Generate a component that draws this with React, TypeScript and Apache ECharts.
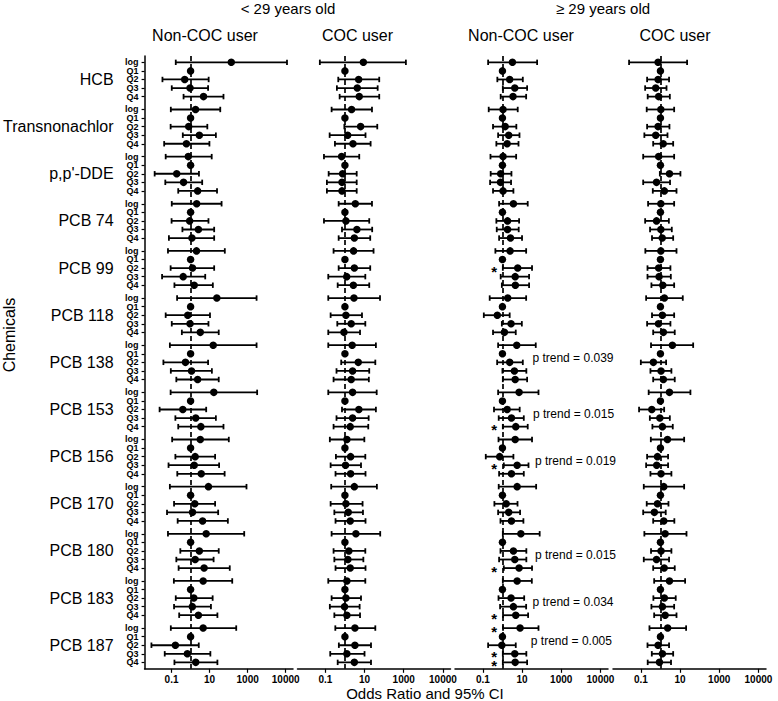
import { useEffect, useRef } from "react";
import * as echarts from "echarts";

// ---------- data ----------
const chemicals = ["HCB", "Transnonachlor", "p,p'-DDE", "PCB 74", "PCB 99", "PCB 118", "PCB 138", "PCB 153", "PCB 156", "PCB 170", "PCB 180", "PCB 183", "PCB 187"];
const rowLabels = ["log", "Q1", "Q2", "Q3", "Q4"];
const ageGroups = ["< 29 years old", "\u2265 29 years old"];
const panelTitles = ["Non-COC user", "COC user", "Non-COC user", "COC user"];
const tickLog10 = [-1, 1, 3, 5];
const tickLabels = ["0.1", "10", "1000", "10000"];

// Each chemical: rows [log, Q2, Q3, Q4] as [lower, estimate, upper] on log10(odds ratio); Q1 is the reference (OR = 1)
const youngNonCOC: number[][][] = [
  [[-0.78, 2.14, 5.07], [-1.48, -0.31, 0.95], [-0.99, -0.03, 0.92], [-0.37, 0.68, 1.73]],
  [[-1.04, 0.26, 1.56], [-1.05, -0.1, 0.88], [-0.41, 0.46, 1.33], [-1.39, -0.22, 0.99]],
  [[-1.31, -0.12, 1.11], [-1.89, -0.73, 0.44], [-1.33, -0.37, 0.61], [-0.65, 0.37, 1.39]],
  [[-0.99, 0.32, 1.63], [-1.0, -0.05, 0.94], [-0.43, 0.41, 1.24], [-1.14, 0.07, 1.24]],
  [[-1.19, 0.31, 1.8], [-1.05, 0.1, 1.24], [-1.5, -0.39, 0.77], [-0.85, 0.19, 1.17]],
  [[-0.71, 1.38, 3.47], [-1.31, -0.15, 1.02], [-0.99, -0.03, 0.94], [-0.46, 0.51, 1.48]],
  [[-1.09, 1.19, 3.47], [-1.43, -0.27, 0.92], [-1.04, 0.05, 1.12], [-0.75, 0.37, 1.48]],
  [[-1.05, 1.22, 3.5], [-1.63, -0.41, 0.82], [-0.8, 0.27, 1.33], [-0.65, 0.54, 1.73]],
  [[-0.97, 0.51, 2.01], [-0.8, 0.24, 1.29], [-1.16, 0.19, 1.5], [-0.7, 0.56, 1.79]],
  [[-1.09, 0.94, 2.94], [-0.87, 0.22, 1.29], [-1.24, 0.1, 1.45], [-0.68, 0.63, 1.96]],
  [[-1.19, 0.82, 2.82], [-0.54, 0.46, 1.48], [-0.75, 0.24, 1.21], [-0.63, 0.71, 2.06]],
  [[-0.88, 0.66, 2.19], [-0.78, 0.17, 1.16], [-0.87, 0.09, 1.07], [-0.6, 0.41, 1.41]],
  [[-1.04, 0.66, 2.4], [-2.06, -0.8, 0.43], [-1.36, -0.17, 1.04], [-0.85, 0.27, 1.41]],
];
const youngCOC: number[][][] = [
  [[-1.28, 0.94, 3.11], [-0.34, 0.7, 1.75], [-0.41, 0.63, 1.67], [-0.27, 0.73, 1.75]],
  [[-0.68, 0.34, 1.38], [-0.03, 0.8, 1.65], [-0.78, 0.14, 1.05], [-0.51, 0.41, 1.31]],
  [[-1.07, -0.17, 0.73], [-0.83, -0.12, 0.6], [-0.92, -0.15, 0.6], [-0.92, -0.15, 0.6]],
  [[-0.32, 0.53, 1.38], [-1.07, 0.05, 1.24], [-0.15, 0.61, 1.39], [-0.32, 0.48, 1.29]],
  [[-0.58, 0.44, 1.46], [-0.32, 0.48, 1.29], [-0.85, 0.09, 1.04], [-0.37, 0.43, 1.24]],
  [[-0.85, 0.46, 1.79], [-0.73, 0.05, 0.87], [-0.39, 0.32, 1.04], [-0.85, -0.05, 0.77]],
  [[-0.85, 0.37, 1.58], [-0.19, 0.68, 1.55], [-0.43, 0.39, 1.24], [-0.58, 0.32, 1.22]],
  [[-0.85, 0.39, 1.62], [-0.15, 0.71, 1.58], [-0.43, 0.39, 1.21], [-0.58, 0.27, 1.19]],
  [[-0.77, 0.1, 0.99], [-0.46, 0.29, 1.04], [-0.73, 0.03, 0.82], [-0.48, 0.29, 1.05]],
  [[-0.7, 0.48, 1.63], [-0.73, 0.05, 0.9], [-0.54, 0.17, 0.92], [-0.48, 0.27, 1.05]],
  [[-0.68, 0.56, 1.8], [-0.58, 0.2, 1.04], [-0.54, 0.15, 0.94], [-0.48, 0.27, 1.05]],
  [[-0.85, 0.1, 1.04], [-0.68, 0.05, 0.82], [-0.77, -0.02, 0.75], [-0.54, 0.1, 0.77]],
  [[-0.49, 0.51, 1.55], [-0.31, 0.51, 1.33], [-0.75, 0.1, 1.0], [-0.37, 0.48, 1.33]],
];
const oldNonCOC: number[][][] = [
  [[-0.73, 0.51, 1.77], [-0.26, 0.37, 1.04], [0.02, 0.63, 1.26], [-0.09, 0.54, 1.21]],
  [[-0.7, 0.03, 0.78], [-0.48, 0.14, 0.71], [-0.22, 0.32, 0.87], [-0.31, 0.24, 0.82]],
  [[-0.61, 0.03, 0.7], [-0.6, -0.09, 0.46], [-0.63, -0.1, 0.44], [-0.48, 0.03, 0.56]],
  [[-0.17, 0.56, 1.29], [-0.31, 0.26, 0.85], [-0.29, 0.26, 0.83], [-0.17, 0.41, 1.0]],
  [[-0.36, 0.39, 1.21], [0.02, 0.78, 1.51], [-0.09, 0.65, 1.36], [-0.03, 0.66, 1.36]],
  [[-0.65, 0.27, 1.21], [-0.95, -0.26, 0.37], [-0.03, 0.44, 0.99], [-0.48, 0.1, 0.68]],
  [[-0.22, 0.73, 1.7], [-0.27, 0.37, 1.04], [0.0, 0.61, 1.22], [0.02, 0.65, 1.26]],
  [[-0.22, 0.85, 1.84], [-0.43, 0.24, 0.88], [-0.19, 0.46, 1.09], [0.02, 0.68, 1.29]],
  [[-0.2, 0.65, 1.51], [-0.85, -0.14, 0.56], [0.07, 0.75, 1.33], [-0.17, 0.46, 1.09]],
  [[-0.19, 0.75, 1.72], [-0.41, 0.19, 0.77], [-0.22, 0.32, 0.9], [-0.1, 0.46, 1.07]],
  [[0.02, 0.94, 1.9], [-0.1, 0.56, 1.22], [-0.17, 0.63, 1.22], [0.07, 0.85, 1.51]],
  [[0.02, 0.75, 1.5], [-0.2, 0.44, 1.11], [-0.12, 0.56, 1.21], [0.03, 0.68, 1.31]],
  [[0.03, 0.9, 1.84], [-0.73, -0.03, 0.68], [0.02, 0.63, 1.22], [0.02, 0.65, 1.26]],
];
const oldCOC: number[][][] = [
  [[-1.6, -0.12, 1.36], [-0.68, -0.12, 0.44], [-0.78, -0.24, 0.31], [-0.65, -0.09, 0.48]],
  [[-0.7, 0.02, 0.7], [-0.68, -0.12, 0.46], [-0.82, -0.24, 0.36], [-0.37, 0.14, 0.65]],
  [[-0.88, -0.09, 0.7], [-0.03, 0.46, 1.02], [-0.88, -0.2, 0.49], [-0.39, 0.2, 0.82]],
  [[-0.63, 0.02, 0.7], [-0.78, -0.2, 0.43], [-0.53, 0.02, 0.58], [-0.43, 0.09, 0.65]],
  [[-0.77, 0.02, 0.82], [-0.66, -0.09, 0.51], [-0.66, -0.07, 0.53], [-0.46, 0.12, 0.7]],
  [[-0.73, 0.2, 1.14], [-0.43, 0.1, 0.7], [-0.68, -0.1, 0.51], [-0.37, 0.15, 0.73]],
  [[-0.48, 0.61, 1.67], [-1.0, -0.36, 0.29], [-0.51, 0.03, 0.56], [-0.37, 0.15, 0.73]],
  [[-0.6, 0.46, 1.53], [-1.09, -0.44, 0.19], [-0.54, -0.03, 0.48], [-0.41, 0.1, 0.63]],
  [[-0.49, 0.36, 1.21], [-0.68, -0.15, 0.39], [-0.73, -0.19, 0.39], [-0.51, 0.03, 0.56]],
  [[-0.85, 0.17, 1.21], [-0.7, -0.15, 0.41], [-0.88, -0.31, 0.27], [-0.37, 0.17, 0.71]],
  [[-0.82, 0.24, 1.33], [-0.48, 0.03, 0.56], [-0.85, -0.2, 0.44], [-0.37, 0.19, 0.73]],
  [[-0.32, 0.46, 1.26], [-0.36, 0.2, 0.78], [-0.46, 0.1, 0.7], [-0.32, 0.24, 0.82]],
  [[-0.56, 0.37, 1.31], [-0.66, -0.12, 0.44], [-0.44, 0.1, 0.65], [-0.65, -0.05, 0.54]],
];
// significant estimates (≥ 29, non-COC): [chemical index, row index]
const starCells = [[4, 2], [7, 4], [8, 3], [10, 4], [11, 4], [12, 0], [12, 3], [12, 4]];
const pTrendChemicals = [6, 7, 8, 10, 11, 12];
const pTrendValues = ["0.039", "0.015", "0.019", "0.015", "0.034", "0.005"];

// ---------- layout ----------
const FONT = '"Liberation Sans", Arial, Helvetica, sans-serif';
const X_MIN = -2.42;
const X_MAX = 5.386;
const GRID_LEFTS = [140, 297.5, 455, 613];
const GRID_WIDTH = 153;
const GRID_TOP = 55.9;
const GRID_HEIGHT = 612.9;
const STAR_X = -0.42;
const P_TEXT_X = [1.53, 1.56, 1.66, 1.66, 1.53, 1.45];
const P_SLOT_OFFSET = [3, 5, 5, 5, 5, 3];

const ROW_STEP = 2;
const GROUP_STEP = 11;
const slotOf = (g: number, r: number) => 1 + g * GROUP_STEP + r * ROW_STEP;
const N_SLOTS = slotOf(chemicals.length - 1, 4) + 2;
const slotKeys = Array.from({ length: N_SLOTS }, (_, i) => "s" + i);
const rowLabelAt: string[] = Array(N_SLOTS).fill("");
const nameAt: string[] = Array(N_SLOTS).fill("");
chemicals.forEach((c, g) => {
  rowLabels.forEach((l, r) => (rowLabelAt[slotOf(g, r)] = l));
  nameAt[slotOf(g, 2)] = c;
});
// first/last (empty) slots take part in label layout so that ECharts' min/max label hiding hits them, not real rows
const showRowLabel = (idx: number) => idx === 0 || idx === N_SLOTS - 1 || rowLabelAt[idx] !== "";

const panels = [youngNonCOC, youngCOC, oldNonCOC, oldCOC];

function buildOption(): any {
  const grids = GRID_LEFTS.map((left) => ({ left, width: GRID_WIDTH, top: GRID_TOP, height: GRID_HEIGHT }));
  const xAxes = GRID_LEFTS.map((_, i) => ({
    type: "value",
    gridIndex: i,
    min: X_MIN,
    max: X_MAX,
    splitLine: { show: false },
    axisLine: { show: true, onZero: false, lineStyle: { color: "#000", width: 1.5 } },
    axisTick: { show: true, customValues: tickLog10, length: 4, lineStyle: { color: "#000", width: 1.2 } },
    axisLabel: {
      customValues: tickLog10,
      formatter: (v: number) => tickLabels[tickLog10.indexOf(v)] ?? "",
      color: "#000",
      fontSize: 10,
      fontWeight: "bold",
      fontFamily: FONT,
      margin: 6,
    },
  }));
  const yAxes: any[] = GRID_LEFTS.map((_, i) => ({
    type: "category",
    gridIndex: i,
    data: slotKeys,
    inverse: true,
    boundaryGap: true,
    axisLine: { show: i === 0, onZero: false, lineStyle: { color: "#000", width: 1.5 } },
    axisTick: {
      show: i === 0,
      alignWithLabel: true,
      interval: (idx: number) => rowLabelAt[idx] !== "",
      length: 3,
      lineStyle: { color: "#000", width: 1.2 },
    },
    axisLabel: {
      show: i === 0,
      interval: (idx: number) => showRowLabel(idx),
      formatter: (_v: string, idx: number) => rowLabelAt[idx] || " ",
      showMinLabel: false,
      showMaxLabel: false,
      hideOverlap: false,
      color: "#000",
      fontSize: 9,
      lineHeight: 8,
      fontWeight: "bold",
      fontFamily: FONT,
      margin: 6,
    },
    splitLine: { show: false },
  }));
  yAxes.push({
    type: "category",
    gridIndex: 0,
    data: slotKeys,
    inverse: true,
    boundaryGap: true,
    position: "left",
    axisLine: { show: false, onZero: false },
    axisTick: { show: false },
    splitLine: { show: false },
    axisLabel: {
      interval: (idx: number) => nameAt[idx] !== "",
      formatter: (_v: string, idx: number) => nameAt[idx],
      showMinLabel: true,
      showMaxLabel: true,
      color: "#000",
      fontSize: 16,
      fontFamily: FONT,
      margin: 31,
      padding: [0, 0, 4, 0],
    },
  });

  const series: any[] = [];
  panels.forEach((rowsByChem, p) => {
    const bars: number[][] = [];
    const pts: number[][] = [];
    rowsByChem.forEach((rows, g) => {
      pts.push([0, slotOf(g, 1)]);
      rows.forEach(([lo, est, hi], k) => {
        const r = k === 0 ? 0 : k + 1;
        bars.push([lo, hi, slotOf(g, r)]);
        pts.push([est, slotOf(g, r)]);
      });
    });
    series.push({
      type: "custom",
      xAxisIndex: p,
      yAxisIndex: p,
      silent: true,
      z: 2,
      data: bars,
      encode: { x: [0, 1], y: 2 },
      renderItem: (_params: any, api: any) => {
        const y = api.value(2);
        const a = api.coord([api.value(0), y]);
        const b = api.coord([api.value(1), y]);
        const h = 2.7;
        const style = { stroke: "#000", lineWidth: 1.8, fill: "none" };
        return {
          type: "group",
          children: [
            { type: "line", shape: { x1: a[0], y1: a[1], x2: b[0], y2: b[1] }, style },
            { type: "line", shape: { x1: a[0], y1: a[1] - h, x2: a[0], y2: a[1] + h }, style },
            { type: "line", shape: { x1: b[0], y1: b[1] - h, x2: b[0], y2: b[1] + h }, style },
          ],
        };
      },
    });
    series.push({
      type: "scatter",
      xAxisIndex: p,
      yAxisIndex: p,
      silent: true,
      z: 3,
      data: pts,
      symbol: "circle",
      symbolSize: 7.5,
      itemStyle: { color: "#000", opacity: 1 },
      markLine: {
        silent: true,
        symbol: ["none", "none"],
        label: { show: false },
        lineStyle: { color: "#000", type: [5, 3], width: 1.7, opacity: 1 },
        data: [{ xAxis: 0 }],
      },
    });
  });

  // significance asterisks
  series.push({
    type: "custom",
    xAxisIndex: 2,
    yAxisIndex: 2,
    silent: true,
    z: 4,
    data: starCells.map(([g, r]) => [STAR_X, slotOf(g, r)]),
    encode: { x: 0, y: 1 },
    renderItem: (_params: any, api: any) => {
      const c = api.coord([api.value(0), api.value(1)]);
      return {
        type: "text",
        x: c[0],
        y: c[1] + 3,
        scaleX: 2,
        scaleY: 2,
        style: { text: "*", fill: "#000", fontSize: 7.5, lineHeight: 4, fontWeight: "bold", fontFamily: FONT, align: "center", verticalAlign: "middle" },
      };
    },
  });
  // p-trend annotations
  series.push({
    type: "custom",
    xAxisIndex: 2,
    yAxisIndex: 2,
    silent: true,
    z: 4,
    data: pTrendChemicals.map((g, i) => [P_TEXT_X[i], slotOf(g, 0) + P_SLOT_OFFSET[i]]),
    encode: { x: 0, y: 1 },
    renderItem: (params: any, api: any) => {
      const c = api.coord([api.value(0), api.value(1)]);
      return {
        type: "text",
        x: c[0],
        y: c[1],
        style: {
          text: "p trend = " + pTrendValues[params.dataIndex],
          fill: "#000",
          fontSize: 12,
          fontFamily: FONT,
          align: "left",
          verticalAlign: "middle",
        },
      };
    },
  });

  const text = (x: number, y: number, t: string, size: number, extra: any = {}) => ({
    type: "text",
    x,
    y,
    silent: true,
    ...extra,
    style: { text: t, fill: "#000", fontSize: size, fontFamily: FONT, align: "center", verticalAlign: "middle" },
  });

  return {
    animation: false,
    backgroundColor: "#fff",
    grid: grids,
    xAxis: xAxes,
    yAxis: yAxes,
    series,
    graphic: [
      text(288, 8, ageGroups[0], 15),
      text(603, 8, ageGroups[1], 15),
      text(205, 35, panelTitles[0], 16),
      text(357.5, 35, panelTitles[1], 16),
      text(521, 35, panelTitles[2], 16),
      text(675, 35, panelTitles[3], 16),
      text(425, 693, "Odds Ratio and 95% CI", 15),
      text(9, 335, "Chemicals", 16, { rotation: Math.PI / 2 }),
    ],
  };
}

export default function App() {
  const ref = useRef<HTMLDivElement>(null);
  useEffect(() => {
    if (!ref.current) return;
    const chart = echarts.init(ref.current, undefined, { renderer: "svg" });
    chart.setOption(buildOption());
    return () => chart.dispose();
  }, []);
  return (
    <div
      ref={ref}
      style={{ position: "fixed", left: 0, top: 0, width: 778, height: 701, background: "#fff" }}
    />
  );
}
